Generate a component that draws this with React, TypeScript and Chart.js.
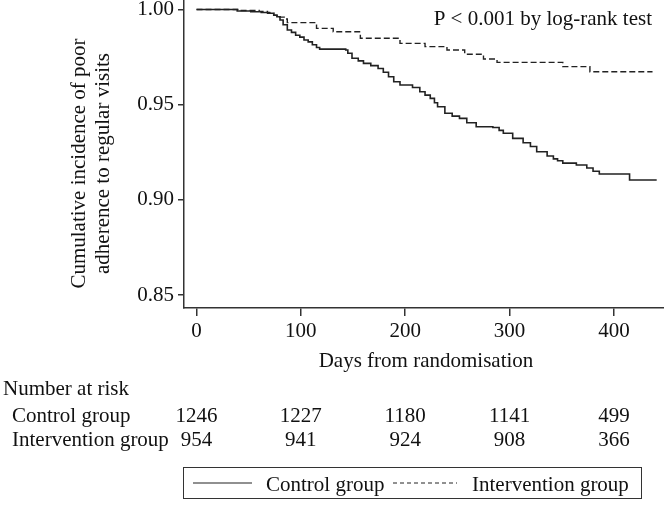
import React, { useEffect, useRef } from "react";
import { Chart, registerables } from "chart.js";

Chart.register(...registerables);

// ---- Data ----
const CONTROL_DAYS = [0, 39, 52, 62, 70, 74, 77, 80, 83, 87, 91, 95, 99, 103, 107, 111, 115, 118, 143, 145, 149, 155, 160, 167, 174, 179, 184, 189, 195, 207, 214, 219, 224, 228, 231, 238, 245, 252, 259, 268, 284, 290, 294, 303, 313, 320, 326, 336, 342, 346, 351, 364, 374, 380, 386, 415, 441];
const CONTROL_SURV = [1.0, 0.9992, 0.9988, 0.9984, 0.998, 0.997, 0.9962, 0.9945, 0.992, 0.9892, 0.988, 0.9865, 0.9855, 0.984, 0.983, 0.9815, 0.98, 0.9792, 0.9787, 0.977, 0.9744, 0.973, 0.9717, 0.9705, 0.969, 0.967, 0.9647, 0.962, 0.9603, 0.959, 0.9568, 0.955, 0.9533, 0.951, 0.9489, 0.9455, 0.944, 0.9428, 0.9405, 0.9384, 0.938, 0.9365, 0.935, 0.9323, 0.93, 0.928, 0.9253, 0.923, 0.9215, 0.9205, 0.9193, 0.9183, 0.9167, 0.915, 0.9136, 0.9104, 0.9104];

const INTERV_DAYS = [0, 42, 60, 68, 74, 80, 84, 87, 115, 131, 157, 195, 219, 240, 257, 275, 288, 351, 377, 437];
const INTERV_SURV = [1.0, 0.9995, 0.999, 0.998, 0.997, 0.996, 0.995, 0.9931, 0.9901, 0.9883, 0.9849, 0.9822, 0.9805, 0.9787, 0.9765, 0.974, 0.9722, 0.97, 0.9673, 0.9673];

const SERIES_NAMES = ["Control group", "Intervention group"];
const X_TICKS = [0, 100, 200, 300, 400];
const Y_TICKS = [0.85, 0.9, 0.95, 1.0];
const RISK_TITLE = "Number at risk";
const RISK_DAYS = [0, 100, 200, 300, 400];
const RISK_CONTROL = [1246, 1227, 1180, 1141, 499];
const RISK_INTERV = [954, 941, 924, 908, 366];
const Y_TITLE = ["Cumulative incidence of poor", "adherence to regular visits"];
const X_TITLE = "Days from randomisation";
const P_TEXT = "P < 0.001 by log-rank test";

const FAMILY = '"Liberation Serif", "Times New Roman", serif';
const FS = 21;
const INK = "#111";
const LINE = "#222";

export default function App() {
  const ref = useRef<HTMLCanvasElement>(null);

  useEffect(() => {
    const canvas = ref.current!;
    const overlay = {
      id: "overlay",
      afterDraw(chart: any) {
        const ctx = chart.ctx as CanvasRenderingContext2D;
        const xs = chart.scales.x;
        ctx.save();
        ctx.fillStyle = INK;
        ctx.font = `${FS}px ${FAMILY}`;
        ctx.textBaseline = "alphabetic";

        // y title (rotated, two lines)
        ctx.save();
        ctx.translate(85, 163.5);
        ctx.rotate(-Math.PI / 2);
        ctx.textAlign = "center";
        ctx.fillText(Y_TITLE[0], 0, 0);
        ctx.fillText(Y_TITLE[1], 0, 23.5);
        ctx.restore();

        // x title
        ctx.textAlign = "center";
        ctx.fillText(X_TITLE, (chart.chartArea.left + chart.chartArea.right) / 2 + 2, 367);

        // p-value
        ctx.textAlign = "right";
        ctx.fillText(P_TEXT, 652, 25);

        // risk table
        ctx.textAlign = "left";
        ctx.fillText(RISK_TITLE, 3, 395);
        ctx.fillText(SERIES_NAMES[0], 12, 421.5);
        ctx.fillText(SERIES_NAMES[1], 12, 446);
        ctx.textAlign = "center";
        RISK_DAYS.forEach((d, i) => {
          const px = xs.getPixelForValue(d);
          ctx.fillText(String(RISK_CONTROL[i]), px, 421.5);
          ctx.fillText(String(RISK_INTERV[i]), px, 446);
        });

        // legend box
        ctx.strokeStyle = "#333";
        ctx.lineWidth = 1;
        ctx.strokeRect(183.5, 467.5, 458, 31);
        ctx.strokeStyle = LINE;
        ctx.lineWidth = 1.2;
        ctx.beginPath();
        ctx.moveTo(193, 483);
        ctx.lineTo(252, 483);
        ctx.stroke();
        ctx.setLineDash([4, 3]);
        ctx.lineWidth = 1;
        ctx.beginPath();
        ctx.moveTo(393, 483);
        ctx.lineTo(457, 483);
        ctx.stroke();
        ctx.setLineDash([]);
        ctx.textAlign = "left";
        ctx.fillText(SERIES_NAMES[0], 266, 490.5);
        ctx.fillText(SERIES_NAMES[1], 472, 490.5);
        ctx.restore();
      },
    };

    const chart = new Chart(canvas, {
      type: "scatter",
      data: {
        datasets: [
          {
            label: SERIES_NAMES[0],
            data: CONTROL_DAYS.map((d, i) => ({ x: d, y: CONTROL_SURV[i] })),
            showLine: true,
            stepped: true,
            borderColor: LINE,
            borderWidth: 1.6,
            pointRadius: 0,
            fill: false,
          },
          {
            label: SERIES_NAMES[1],
            data: INTERV_DAYS.map((d, i) => ({ x: d, y: INTERV_SURV[i] })),
            showLine: true,
            stepped: true,
            borderColor: LINE,
            borderWidth: 1.4,
            borderDash: [6, 3],
            pointRadius: 0,
            fill: false,
          },
        ],
      },
      options: {
        animation: false,
        responsive: false,
        devicePixelRatio: 1,
        layout: { padding: 0 },
        plugins: { legend: { display: false }, tooltip: { enabled: false }, title: { display: false } },
        scales: {
          x: {
            type: "linear",
            min: -12,
            max: 448,
            afterFit: (s: any) => {
              s.height = 199;
              s.paddingLeft = 0;
              s.paddingRight = 0;
              s.paddingTop = 0;
              s.paddingBottom = 0;
            },
            afterBuildTicks: (s: any) => {
              s.ticks = X_TICKS.map((v) => ({ value: v }));
            },
            grid: { display: true, drawOnChartArea: false, drawTicks: true, tickLength: 8, color: "#333", lineWidth: 1.5 },
            border: { display: true, color: "#333", width: 1.5 },
            ticks: {
              font: { family: FAMILY, size: FS },
              color: INK,
              padding: 3,
              maxRotation: 0,
              autoSkip: false,
              callback: (v: any) => String(v),
            },
          },
          y: {
            type: "linear",
            min: 0.84317,
            max: 1.00499,
            afterFit: (s: any) => {
              s.width = 184;
              s.paddingLeft = 0;
              s.paddingRight = 0;
              s.paddingTop = 0;
              s.paddingBottom = 0;
            },
            afterBuildTicks: (s: any) => {
              s.ticks = Y_TICKS.map((v) => ({ value: v }));
            },
            grid: { display: true, drawOnChartArea: false, drawTicks: true, tickLength: 6, color: "#333", lineWidth: 1.5 },
            border: { display: true, color: "#333", width: 1.5 },
            ticks: {
              font: { family: FAMILY, size: FS },
              color: INK,
              padding: 4,
              autoSkip: false,
              callback: (v: any) => Number(v).toFixed(2),
            },
          },
        },
      },
      plugins: [overlay],
    });
    return () => chart.destroy();
  }, []);

  return (
    <div style={{ position: "absolute", left: 0, top: 0, width: 664, height: 507, background: "#fff" }}>
      <canvas ref={ref} width={664} height={507} style={{ display: "block" }} />
    </div>
  );
}
